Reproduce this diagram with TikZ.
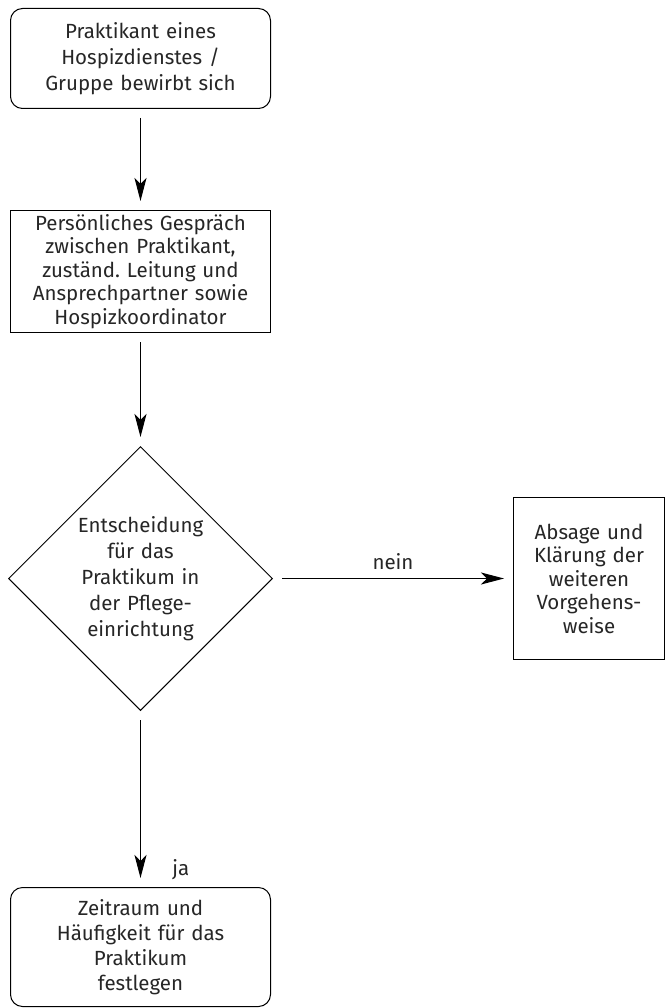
\documentclass[tikz,border=0pt]{standalone}
\usepackage{fontspec}
\setmainfont{Fira Sans}
\usepackage{tikz}
\usetikzlibrary{shapes,arrows.meta,positioning,calc}
\tikzstyle{line} = [draw, line width=1pt, -{Stealth[length=23pt,width=12pt,inset=6pt]}, shorten <=9pt, shorten >=9pt]

\begin{document}
\frenchspacing
\begin{tikzpicture}[node distance = 1.0cm, auto, font=\fontsize{20.5}{26}\selectfont, every node/.style={text=black!85}]
    \useasboundingbox (0,0) rectangle (664pt,-1008pt);
    \node [draw, rectangle, rounded corners=12pt, line width=1pt, text width=240pt, inner xsep=10pt, align=center, minimum height=100pt, anchor=north west] (apply) at (10pt,-8pt) {Praktikant eines\\Hospizdienstes /\\Gruppe bewirbt sich};
    \node [draw, rectangle, line width=1pt, text width=240pt, inner xsep=10pt, inner ysep=1pt, align=center, minimum height=122pt, below=101pt of apply, font=\fontsize{20.5}{23.5}\selectfont] (talk) {Persönliches Gespräch\\zwischen Praktikant,\\zuständ. Leitung und\\Ansprechpartner sowie\\Hospizkoordinator};
    \node [draw, diamond, aspect=1, line width=1pt, text width=130pt, align=center, minimum width=264pt, minimum height=264pt, inner sep=0pt, below=113pt of talk] (decide) {Entscheidung\\für das\\Praktikum in\\der Pflege-\\einrichtung};
    \node [draw, rectangle, line width=1pt, text width=137pt, inner xsep=7pt, align=center, minimum height=162pt, right=240pt of decide, font=\fontsize{20.5}{23.5}\selectfont] (refuse) {Absage und\\Klärung der\\weiteren\\Vorgehens-\\weise};
    \node [draw, rectangle, rounded corners=12pt, line width=1pt, text width=240pt, inner xsep=10pt, align=center, minimum height=119pt, below=176pt of decide, font=\fontsize{20.5}{25}\selectfont] (fix) {Zeitraum und\\Häufigkeit für das\\Praktikum\\festlegen};

    \path [line] (apply) -- (talk);
    \path [line] (talk) -- (decide);
    \path [line] (decide) -- node [above=5pt] {nein} (refuse);
    \path [line] (decide) -- node [pos=0.9, right=28pt] {ja} (fix);
\end{tikzpicture}
\end{document}
